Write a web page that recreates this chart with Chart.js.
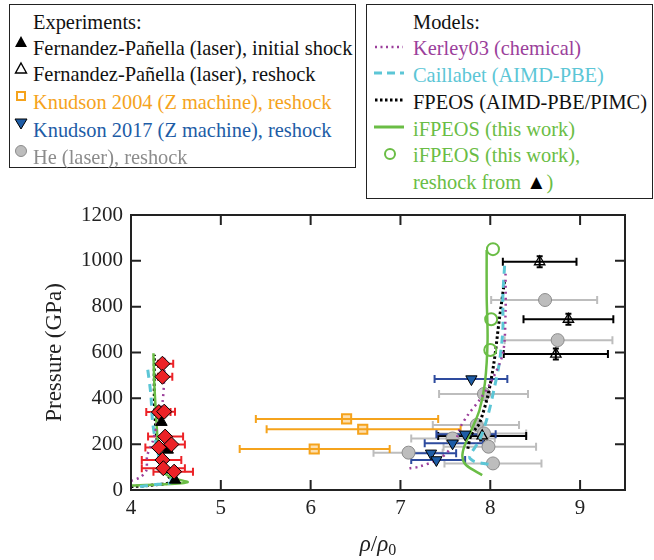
<!DOCTYPE html>
<html>
<head>
<meta charset="utf-8">
<script src="https://cdn.jsdelivr.net/npm/chart.js@4.4.1/dist/chart.umd.min.js"></script>
<style>
  body { margin: 0; background: #fff; }
  #wrap { position: relative; width: 654px; height: 560px; font-family: "Liberation Serif", "Times New Roman", "DejaVu Serif", serif; color: #111; }
  #chart { position: absolute; left: 0; top: 0; }
  .box { position: absolute; border: 1.5px solid #222; box-sizing: border-box; background: #fff; font-size: 20.4px; }
  .row { position: absolute; height: 27px; line-height: 27px; white-space: nowrap; }
  .mk { position: absolute; }
  #xtitle { position: absolute; left: 0; width: 756px; top: 530px; text-align: center; font-size: 23px; line-height: 28px; color: #222; }
  #xtitle sub { font-size: 16px; vertical-align: -4px; }
</style>
</head>
<body>
<div id="wrap">
  <canvas id="chart" width="654" height="560"></canvas>
  <div id="xtitle"><i>ρ</i>/<i>ρ</i><sub>0</sub></div>

  <div class="box" style="left:9px; top:4px; width:347px; height:164px;">
    <div class="row" style="left:23px; top:4px;">Experiments:</div>
    <svg class="mk" style="left:4px; top:30px" width="14" height="14"><polygon points="7,1 13,12 1,12" fill="#000"/></svg>
    <div class="row" style="left:23px; top:30px;">Fernandez-Pañella (laser), initial shock</div>
    <svg class="mk" style="left:4px; top:56px" width="14" height="14"><polygon points="7,2 12.5,12 1.5,12" fill="none" stroke="#000" stroke-width="1.4"/></svg>
    <div class="row" style="left:23px; top:56px;">Fernandez-Pañella (laser), reshock</div>
    <svg class="mk" style="left:4px; top:84px" width="14" height="14"><rect x="3" y="3" width="8" height="8" fill="none" stroke="#f5a31c" stroke-width="2"/></svg>
    <div class="row" style="left:23px; top:84px; color:#f5a31c;">Knudson 2004 (Z machine), reshock</div>
    <svg class="mk" style="left:4px; top:112px" width="14" height="14"><polygon points="1,2 13,2 7,12" fill="#1d5ca6" stroke="#000" stroke-width="1"/></svg>
    <div class="row" style="left:23px; top:112px; color:#1d5ca6;">Knudson 2017 (Z machine), reshock</div>
    <svg class="mk" style="left:4px; top:139px" width="14" height="14"><circle cx="7" cy="7" r="5.5" fill="#bdbdbd" stroke="#8c8c8c" stroke-width="1"/></svg>
    <div class="row" style="left:23px; top:139px; color:#8c8c8c;">He (laser), reshock</div>
  </div>

  <div class="box" style="left:366px; top:4px; width:287px; height:195px;">
    <div class="row" style="left:46px; top:4px;">Models:</div>
    <svg class="mk" style="left:6px; top:38px" width="32" height="8"><line x1="2" y1="4" x2="30" y2="4" stroke="#9b3f9b" stroke-width="2.5" stroke-dasharray="2,3.5"/></svg>
    <div class="row" style="left:46px; top:30px; color:#9b3f9b;">Kerley03 (chemical)</div>
    <svg class="mk" style="left:6px; top:64px" width="32" height="8"><line x1="1" y1="4" x2="31" y2="4" stroke="#5cc6d6" stroke-width="3" stroke-dasharray="8,5"/></svg>
    <div class="row" style="left:46px; top:57px; color:#5cc6d6;">Caillabet (AIMD-PBE)</div>
    <svg class="mk" style="left:6px; top:91px" width="32" height="8"><line x1="2" y1="4" x2="30" y2="4" stroke="#000" stroke-width="3" stroke-dasharray="2.5,2.5"/></svg>
    <div class="row" style="left:46px; top:84px;">FPEOS (AIMD-PBE/PIMC)</div>
    <svg class="mk" style="left:6px; top:118px" width="32" height="8"><line x1="1" y1="4" x2="31" y2="4" stroke="#6abd45" stroke-width="3"/></svg>
    <div class="row" style="left:46px; top:111px; color:#6abd45;">iFPEOS (this work)</div>
    <svg class="mk" style="left:16px; top:142px" width="14" height="14"><circle cx="7" cy="7" r="5" fill="none" stroke="#6abd45" stroke-width="2"/></svg>
    <div class="row" style="left:46px; top:137px; color:#6abd45;">iFPEOS (this work),</div>
    <div class="row" style="left:46px; top:164px; color:#6abd45;">reshock from <span style="color:#000">▲</span>)</div>
  </div>
</div>

<script>
const xTicks = [4, 5, 6, 7, 8, 9];
const yTicks = [0, 200, 400, 600, 800, 1000, 1200];

// Fernandez-Pañella (laser), initial shock
const fpInitX = [4.34, 4.41, 4.49];
const fpInitP = [296, 175, 44];

// Fernandez-Pañella (laser), reshock
const fpReX = [8.55, 8.87, 8.73, 7.91];
const fpReP = [996, 745, 593, 236];
const fpReLo = [8.14, 8.37, 8.15, 7.42];
const fpReHi = [8.96, 9.37, 9.31, 8.40];
const fpReDp = [24, 24, 24, 20];

// Knudson 2004
const k04X = [6.40, 6.58, 6.04];
const k04P = [310, 265, 179];
const k04Lo = [5.39, 5.51, 5.21];
const k04Hi = [7.42, 7.67, 6.88];

// Knudson 2017
const k17X = [7.79, 7.72, 7.58, 7.34, 7.40];
const k17P = [484, 243, 204, 160, 131];
const k17Lo = [7.38, 7.40, 7.27, 7.14, 7.12];
const k17Hi = [8.19, 8.06, 7.92, 7.62, 7.72];

// He (laser), reshock
const heX = [8.61, 8.75, 7.93, 7.85, 7.93, 7.58, 7.98, 7.09, 8.03];
const heP = [829, 654, 419, 284, 247, 225, 189, 163, 116];
const heLo = [8.01, 8.16, 7.43, 7.36, 7.41, 7.12, 7.48, 6.70, 7.49];
const heHi = [9.19, 9.36, 8.42, 8.32, 8.40, 8.05, 8.51, 7.47, 8.57];

// red diamonds (principal Hugoniot data)
const hugX = [4.35, 4.35, 4.31, 4.37, 4.38, 4.45, 4.31, 4.35, 4.36, 4.48];
const hugP = [551, 494, 340, 342, 233, 199, 186, 131, 95, 80];
const hugLo = [4.30, 4.30, 4.17, 4.28, 4.19, 4.30, 4.16, 4.12, 4.12, 4.25];
const hugHi = [4.47, 4.46, 4.44, 4.49, 4.58, 4.60, 4.45, 4.56, 4.60, 4.69];

// iFPEOS reshock from initial shock
const ifReX = [8.03, 8.01, 8.00];
const ifReP = [1051, 745, 611];

// model curves: principal Hugoniot (left) and reshock (right)
const kerHugX = [4.00, 4.10, 4.17, 4.18, 4.24, 4.30, 4.35, 4.37, 4.37];
const kerHugP = [40, 55, 85, 150, 210, 305, 380, 500, 580];
const kerReX = [7.10, 7.21, 7.45, 7.60, 7.67, 7.75, 7.88, 8.00, 8.14, 8.17, 8.17];
const kerReP = [95, 102, 140, 204, 276, 327, 393, 465, 596, 771, 953];

const caiHugX = [4.10, 4.30, 4.45, 4.33, 4.28, 4.24, 4.22, 4.18];
const caiHugP = [15, 25, 36, 120, 200, 300, 420, 545];
const caiReX = [7.98, 7.82, 7.77, 7.88, 7.97, 8.04, 8.10, 8.14, 8.14, 8.16];
const caiReP = [112, 125, 145, 218, 320, 436, 553, 698, 843, 982];

const fpHugX = [4.00, 4.20, 4.45, 4.38, 4.32, 4.28, 4.26, 4.26];
const fpHugP = [15, 20, 36, 80, 150, 250, 400, 590];
const fpModReX = [7.75, 7.78, 7.84, 7.88, 7.97, 8.04, 8.10, 8.16];
const fpModReP = [180, 233, 269, 291, 407, 553, 742, 916];

const ifHugX = [4.00, 4.30, 4.63, 4.43, 4.33, 4.30, 4.28, 4.26, 4.25];
const ifHugP = [20, 24, 34, 58, 102, 200, 320, 460, 597];
const ifModReX = [7.91, 7.73, 7.69, 7.71, 7.79, 7.88, 7.94, 7.97, 7.96, 7.96];
const ifModReP = [65, 109, 145, 189, 262, 349, 465, 654, 843, 1047];

const pts = (xs, ps) => xs.map((x, i) => ({ x: x, y: ps[i] }));

const PURPLE = "#9b3f9b", CYAN = "#5cc6d6", GREEN = "#6abd45", ORANGE = "#f5a31c";
const SERIF = "'Liberation Serif', 'Times New Roman', 'DejaVu Serif', serif";

function curve(xs, ps, color, width, dash) {
  return {
    data: pts(xs, ps),
    showLine: true,
    borderColor: color,
    borderWidth: width,
    borderDash: dash,
    pointRadius: 0,
    tension: 0.3,
    fill: false,
    order: 4,
  };
}

const errorBars = {
  id: "errorBars",
  beforeDatasetsDraw(chart) {
    const { ctx, scales: { x, y } } = chart;
    chart.data.datasets.forEach(ds => {
      if (!ds.errLo) return;
      ctx.save();
      ctx.strokeStyle = ds.errColor;
      ctx.lineWidth = 2;
      ds.data.forEach((p, i) => {
        const px = x.getPixelForValue(p.x);
        const py = y.getPixelForValue(p.y);
        const x0 = x.getPixelForValue(ds.errLo[i]);
        const x1 = x.getPixelForValue(ds.errHi[i]);
        ctx.beginPath();
        ctx.moveTo(x0, py); ctx.lineTo(x1, py);
        ctx.moveTo(x0, py - 4); ctx.lineTo(x0, py + 4);
        ctx.moveTo(x1, py - 4); ctx.lineTo(x1, py + 4);
        if (ds.errP) {
          const y0 = y.getPixelForValue(p.y - ds.errP[i]);
          const y1 = y.getPixelForValue(p.y + ds.errP[i]);
          ctx.moveTo(px, y0); ctx.lineTo(px, y1);
          ctx.moveTo(px - 3, y0); ctx.lineTo(px + 3, y0);
          ctx.moveTo(px - 3, y1); ctx.lineTo(px + 3, y1);
        }
        ctx.stroke();
      });
      ctx.restore();
    });
  },
};

// box around plot with inward ticks on all sides
const frame = {
  id: "frame",
  afterDraw(chart) {
    const { ctx, chartArea: a, scales: { x, y } } = chart;
    ctx.save();
    ctx.strokeStyle = "#222";
    ctx.lineWidth = 2;
    ctx.strokeRect(a.left, a.top, a.right - a.left, a.bottom - a.top);
    ctx.beginPath();
    xTicks.forEach(v => {
      const px = x.getPixelForValue(v);
      ctx.moveTo(px, a.bottom); ctx.lineTo(px, a.bottom - 10);
      ctx.moveTo(px, a.top); ctx.lineTo(px, a.top + 10);
    });
    yTicks.forEach(v => {
      const py = y.getPixelForValue(v);
      ctx.moveTo(a.left, py); ctx.lineTo(a.left + 10, py);
      ctx.moveTo(a.right, py); ctx.lineTo(a.right - 10, py);
    });
    ctx.stroke();
    ctx.restore();
  },
};

const font = { family: SERIF, size: 21 };

new Chart(document.getElementById("chart"), {
  type: "scatter",
  data: {
    datasets: [
      {
        data: pts(heX, heP), errLo: heLo, errHi: heHi, errColor: "#bdbdbd",
        pointRadius: 6.5, pointBackgroundColor: "#bdbdbd", pointBorderColor: "#8c8c8c", pointBorderWidth: 1, order: 6,
      },
      {
        data: pts(fpReX, fpReP), errLo: fpReLo, errHi: fpReHi, errP: fpReDp, errColor: "#000",
        pointStyle: "triangle", pointRadius: 6, pointBackgroundColor: "rgba(255,255,255,0)", pointBorderColor: "#000", pointBorderWidth: 1.3, order: 5,
      },
      curve(kerHugX, kerHugP, PURPLE, 2.5, [2, 4]),
      curve(kerReX, kerReP, PURPLE, 2.5, [2, 4]),
      curve(caiHugX, caiHugP, CYAN, 3, [8, 6]),
      curve(caiReX, caiReP, CYAN, 3, [8, 6]),
      curve(ifHugX, ifHugP, GREEN, 2.5, []),
      curve(ifModReX, ifModReP, GREEN, 2.5, []),
      curve(fpHugX, fpHugP, "#000", 3, [2.5, 2.5]),
      curve(fpModReX, fpModReP, "#000", 3, [2.5, 2.5]),
      {
        data: pts(k04X, k04P), errLo: k04Lo, errHi: k04Hi, errColor: ORANGE,
        pointStyle: "rect", pointRadius: 6.5, pointBackgroundColor: "rgba(245,163,28,0.35)", pointBorderColor: ORANGE, pointBorderWidth: 2, order: 3,
      },
      {
        data: pts(k17X, k17P), errLo: k17Lo, errHi: k17Hi, errColor: "#2e4b9e",
        pointStyle: "triangle", rotation: 180, pointRadius: 6.5, pointBackgroundColor: "#1d5ca6", pointBorderColor: "#000", pointBorderWidth: 1, order: 2,
      },
      {
        data: pts(fpInitX, fpInitP),
        pointStyle: "triangle", pointRadius: 6.5, pointBackgroundColor: "#000", pointBorderColor: "#000", order: 2,
      },
      {
        data: pts(hugX, hugP), errLo: hugLo, errHi: hugHi, errColor: "#ec2227",
        pointStyle: "rectRot", pointRadius: 7.5, pointBackgroundColor: "#ec2227", pointBorderColor: "#000", pointBorderWidth: 1, order: 1,
      },
      {
        data: pts(ifReX, ifReP),
        pointRadius: 6, pointBackgroundColor: "rgba(255,255,255,0)", pointBorderColor: GREEN, pointBorderWidth: 2, order: 0,
      },
    ],
  },
  options: {
    responsive: false,
    animation: false,
    devicePixelRatio: 1,
    layout: { padding: { top: 215, right: 29, left: 0, bottom: 0 } },
    plugins: { legend: { display: false }, tooltip: { enabled: false } },
    scales: {
      x: {
        type: "linear",
        min: 4,
        max: 9.5,
        grid: { display: false, drawTicks: false },
        border: { display: false },
        afterBuildTicks: s => { s.ticks = xTicks.map(v => ({ value: v })); },
        afterFit: s => { s.height = 70; },
        ticks: { font: font, color: "#222", padding: 6, maxRotation: 0, callback: v => String(v) },
      },
      y: {
        type: "linear",
        min: 0,
        max: 1200,
        grid: { display: false, drawTicks: false },
        border: { display: false },
        afterBuildTicks: s => { s.ticks = yTicks.map(v => ({ value: v })); },
        afterFit: s => { s.width = 131; },
        ticks: { font: font, color: "#222", padding: 8, callback: v => String(v) },
        title: { display: true, text: "Pressure (GPa)", font: { family: SERIF, size: 23 }, color: "#222", padding: { top: 41, bottom: 0 } },
      },
    },
  },
  plugins: [errorBars, frame],
});
</script>
</body>
</html>
